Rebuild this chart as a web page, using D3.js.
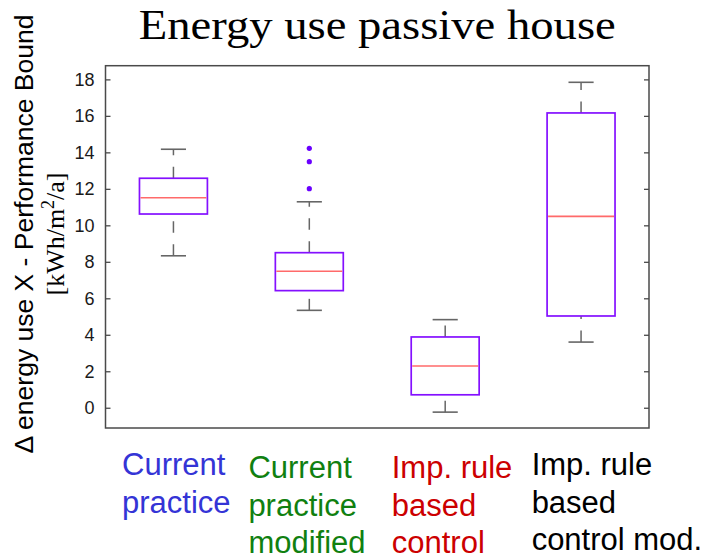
<!DOCTYPE html>
<html>
<head>
<meta charset="utf-8">
<script src="https://cdn.jsdelivr.net/npm/d3@7"></script>
<style>
  html, body { margin: 0; padding: 0; background: #fff; }
  svg { display: block; }
</style>
</head>
<body>
<svg id="chart" width="705" height="559"></svg>
<script>
// ---------------- data ----------------
const categories = ["Current practice", "Current practice modified", "Imp. rule based control", "Imp. rule based control mod."];
const whiskerLow  = [8.33, 5.34, -0.24, 3.60];
const q1          = [10.62, 6.42, 0.71, 5.03];
const medians     = [11.51, 7.48, 2.29, 10.49];
const q3          = [12.58, 8.50, 3.88, 16.16];
const whiskerHigh = [14.17, 11.29, 4.83, 17.84];
const outliers    = [[], [12.01, 13.49, 14.22], [], []];
const labelLines  = [["Current", "practice"], ["Current", "practice", "modified"], ["Imp. rule", "based", "control"], ["Imp. rule", "based", "control mod."]];
const labelColors = ["#3434d6", "#108010", "#cc0000", "#000000"];
const yTicks      = [0, 2, 4, 6, 8, 10, 12, 14, 16, 18];
const titleText   = "Energy use passive house";

// ---------------- layout ----------------
const plot = { left: 105.5, right: 649, top: 65.7, bottom: 428 };
const labelDx = [16.5, 7, 14.5, 18.5];
const labelBase = [475, 478, 478, 475];
const lineH = 37.5;

const svg = d3.select("#chart");

const x = d3.scaleBand().domain(categories).range([plot.left, plot.right]).padding(0);
const y = d3.scaleLinear().domain([-1.11, 18.75]).range([plot.bottom, plot.top]);

const boxW = x.bandwidth() * 0.5;
const capW = x.bandwidth() * 0.185;

const rows = categories.map((c, i) => ({
  c, i, lo: whiskerLow[i], q1: q1[i], med: medians[i], q3: q3[i], hi: whiskerHigh[i], out: outliers[i]
}));

// title
svg.append("text")
  .attr("x", (plot.left + plot.right) / 2)
  .attr("y", 38.5)
  .attr("text-anchor", "middle")
  .attr("font-family", "'Liberation Serif', 'Times New Roman', serif")
  .attr("font-size", 42)
  .attr("textLength", 477)
  .attr("lengthAdjust", "spacingAndGlyphs")
  .attr("fill", "#000")
  .text(titleText);

// frame
svg.append("rect")
  .attr("x", plot.left).attr("y", plot.top)
  .attr("width", plot.right - plot.left).attr("height", plot.bottom - plot.top)
  .attr("fill", "none").attr("stroke", "#4a4a4a").attr("stroke-width", 1.5);

// left axis (ticks inward)
const yAxisL = d3.axisLeft(y).tickValues(yTicks).tickSizeInner(-5).tickSizeOuter(0).tickPadding(11);
const gL = svg.append("g").attr("transform", `translate(${plot.left},0)`).call(yAxisL);
gL.select(".domain").remove();
gL.selectAll(".tick line").attr("stroke", "#4a4a4a").attr("stroke-width", 1.3);
gL.selectAll(".tick text")
  .attr("font-family", "'Liberation Sans', Arial, sans-serif")
  .attr("font-size", 18).attr("fill", "#1a1a1a");

// right axis ticks inward
const yAxisR = d3.axisRight(y).tickValues(yTicks).tickSizeInner(-5).tickSizeOuter(0).tickFormat("");
const gR = svg.append("g").attr("transform", `translate(${plot.right},0)`).call(yAxisR);
gR.select(".domain").remove();
gR.selectAll(".tick line").attr("stroke", "#4a4a4a").attr("stroke-width", 1.3);

// boxes
const g = svg.append("g");
const cx = d => x(d.c) + x.bandwidth() / 2;

// whiskers (dashed, drawn from lower value to higher value)
g.selectAll("line.wlo").data(rows).join("line")
  .attr("x1", cx).attr("x2", cx)
  .attr("y1", d => y(d.lo)).attr("y2", d => y(d.q1))
  .attr("stroke", "#666").attr("stroke-width", 1.5).attr("stroke-dasharray", "11.5,11.5");
g.selectAll("line.whi").data(rows).join("line")
  .attr("x1", cx).attr("x2", cx)
  .attr("y1", d => y(d.q3)).attr("y2", d => y(d.hi))
  .attr("stroke", "#666").attr("stroke-width", 1.5).attr("stroke-dasharray", "11.5,11.5");

// caps
["lo", "hi"].forEach(k => {
  g.selectAll("line.cap" + k).data(rows).join("line")
    .attr("x1", d => cx(d) - capW / 2).attr("x2", d => cx(d) + capW / 2)
    .attr("y1", d => y(d[k])).attr("y2", d => y(d[k]))
    .attr("stroke", "#666").attr("stroke-width", 1.6);
});

// boxes
g.selectAll("rect.box").data(rows).join("rect")
  .attr("x", d => cx(d) - boxW / 2).attr("width", boxW)
  .attr("y", d => y(d.q3)).attr("height", d => y(d.q1) - y(d.q3))
  .attr("fill", "none").attr("stroke", "#8410ff").attr("stroke-width", 1.7);

// medians
g.selectAll("line.med").data(rows).join("line")
  .attr("x1", d => cx(d) - boxW / 2 + 1).attr("x2", d => cx(d) + boxW / 2 - 1)
  .attr("y1", d => y(d.med)).attr("y2", d => y(d.med))
  .attr("stroke", "#ff6a6a").attr("stroke-width", 1.6);

// outliers
rows.forEach(d => {
  g.selectAll(null).data(d.out).join("circle")
    .attr("cx", cx(d)).attr("cy", v => y(v)).attr("r", 2.6)
    .attr("fill", "#6a00ff");
});

// category labels
rows.forEach(d => {
  const t = svg.append("text")
    .attr("font-family", "'Liberation Sans', Arial, sans-serif")
    .attr("font-size", 31)
    .attr("fill", labelColors[d.i]);
  labelLines[d.i].forEach((ln, j) => {
    t.append("tspan")
      .attr("x", x(d.c) + labelDx[d.i])
      .attr("y", labelBase[d.i] + j * lineH)
      .text(ln);
  });
});

// y-axis label
const yl = svg.append("g").attr("transform", `translate(0,234) rotate(-90)`);
yl.append("text")
  .attr("x", 0).attr("y", 33)
  .attr("text-anchor", "middle")
  .attr("font-family", "'Liberation Sans', Arial, sans-serif")
  .attr("font-size", 26.5)
  .attr("fill", "#000")
  .text("\u0394 energy use X - Performance Bound");
const t2 = yl.append("text")
  .attr("x", 0).attr("y", 64)
  .attr("text-anchor", "middle")
  .attr("font-family", "'Liberation Serif', 'Times New Roman', serif")
  .attr("font-size", 26)
  .attr("fill", "#000");
t2.append("tspan").text("[kWh/m");
t2.append("tspan").attr("font-size", 18).attr("dy", -10).text("2");
t2.append("tspan").attr("dy", 10).text("/a]");
</script>
</body>
</html>
